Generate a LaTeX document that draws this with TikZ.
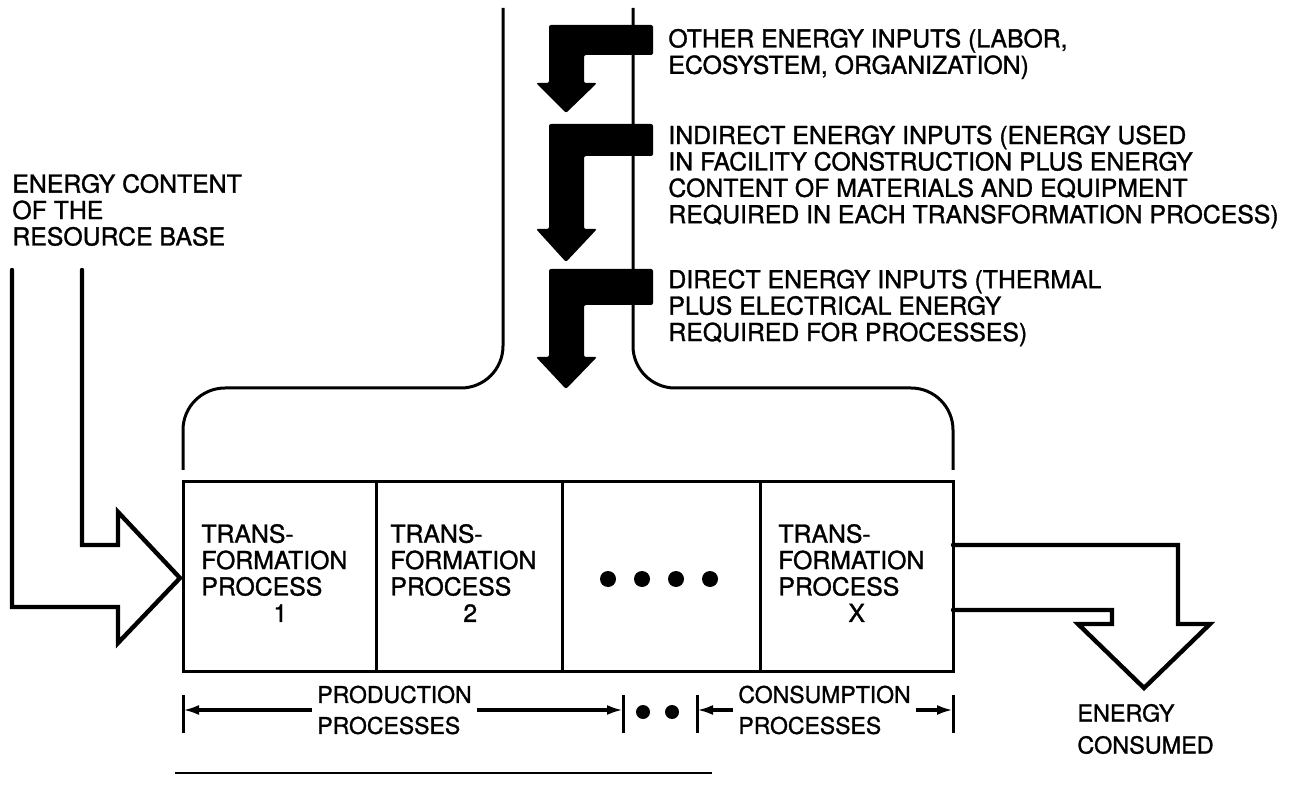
\documentclass[tikz,border=0pt]{standalone}
\usepackage{fontspec}
\setmainfont{TeX Gyre Heros}[FakeBold=1.2]
\usetikzlibrary{arrows.meta}

\tikzset{
  plain line/.style={line width=1.5pt},
  hollow arrow/.style={line width=2.2pt, line join=miter, line cap=round},
  lbl/.style={align=left, inner sep=0pt, font=\fontsize{12.4}{13.2}\selectfont},
  span/.style={line width=1.6pt, -{Latex[length=8pt,width=5pt]}},
}

\begin{document}
\begin{tikzpicture}[x=0.5pt,y=-0.5pt]
\useasboundingbox (0,0) rectangle (1299,795);

% bracket over the chain
\draw[plain line, rounded corners=21pt] (503,8) -- (503,388) -- (183,388) -- (183,470);
\draw[plain line, rounded corners=21pt] (633,8) -- (633,388) -- (953,388) -- (953,470);

% energy inputs from above
\foreach \ta/\tb/\hd/\tp in {25/55/83/113, 124/156/229/262, 269/305/357/389}
  \fill[rounded corners=1pt] (549,\ta) -- (653,\ta) -- (653,\tb) -- (584,\tb) -- (584,\hd) -- (597,\hd) -- (566,\tp) -- (536,\hd) -- (549,\hd) -- cycle;

\node[lbl, anchor=west] (other) at (668,54) {OTHER ENERGY INPUTS (LABOR,\\ECOSYSTEM, ORGANIZATION)};
\node[lbl, anchor=west] (indirect) at (668,177) {INDIRECT ENERGY INPUTS (ENERGY USED\\IN FACILITY CONSTRUCTION PLUS ENERGY\\CONTENT OF MATERIALS AND EQUIPMENT\\REQUIRED IN EACH TRANSFORMATION PROCESS)};
\node[lbl, anchor=west] (direct) at (668,308) {DIRECT ENERGY INPUTS (THERMAL\\PLUS ELECTRICAL ENERGY\\REQUIRED FOR PROCESSES)};

% resource base
\node[lbl, anchor=west] (base) at (12,210) {ENERGY CONTENT\\OF THE\\RESOURCE BASE};
\draw[hollow arrow] (82,270) -- (82,545) -- (118,545) -- (118,512) -- (180,578) -- (118,643) -- (118,607) -- (12,607) -- (12,270);

% chain of processes
\draw[plain line] (183,482) rectangle (953,671);
\foreach \x in {376,562,760} \draw[plain line] (\x,482) -- (\x,671);

\node[lbl, anchor=west] (proc1) at (201,573) {TRANS-\\FORMATION\\PROCESS\\\hspace*{36pt}1};
\node[lbl, anchor=west] (proc2) at (390,573) {TRANS-\\FORMATION\\PROCESS\\\hspace*{36.5pt}2};
\node[lbl, anchor=west] (procx) at (778,573) {TRANS-\\FORMATION\\PROCESS\\\hspace*{35pt}X};
\foreach \x in {608,642,676,710} \fill (\x,579) circle[radius=4pt];

% energy leaving
\draw[hollow arrow] (953,545) -- (1178,545) -- (1178,624) -- (1210,624) -- (1144,688) -- (1078,624) -- (1112,624) -- (1112,610) -- (953,610);
\node[lbl, anchor=west, font=\fontsize{11.7}{16}\selectfont] (used) at (1077,729) {ENERGY\\CONSUMED};

% spans below the chain
\coordinate (pl) at (183,710);
\coordinate (pr) at (623,710);
\coordinate (cl) at (697,710);
\coordinate (cr) at (953,710);
\foreach \c in {pl,pr,cl,cr} \draw[plain line] ([yshift=7.5pt]\c) -- ([yshift=-11.5pt]\c);

\node[lbl, anchor=west, inner sep=2.5pt, font=\fontsize{11.5}{15.5}\selectfont] (prod) at (312,710) {PRODUCTION\\PROCESSES};
\draw[span] (prod.west) -- (pl);
\draw[span] (prod.east) -- (pr);
\fill (643,712) circle[radius=3.5pt];
\fill (672,712) circle[radius=3.5pt];
\node[lbl, anchor=west, inner sep=2.5pt, font=\fontsize{11.5}{15.5}\selectfont] (cons) at (733,710) {CONSUMPTION\\PROCESSES};
\draw[span] (cons.west) -- (cl);
\draw[span] (cons.east) -- (cr);

\draw[line width=1pt] (175,773) -- (712,773);
\end{tikzpicture}
\end{document}
